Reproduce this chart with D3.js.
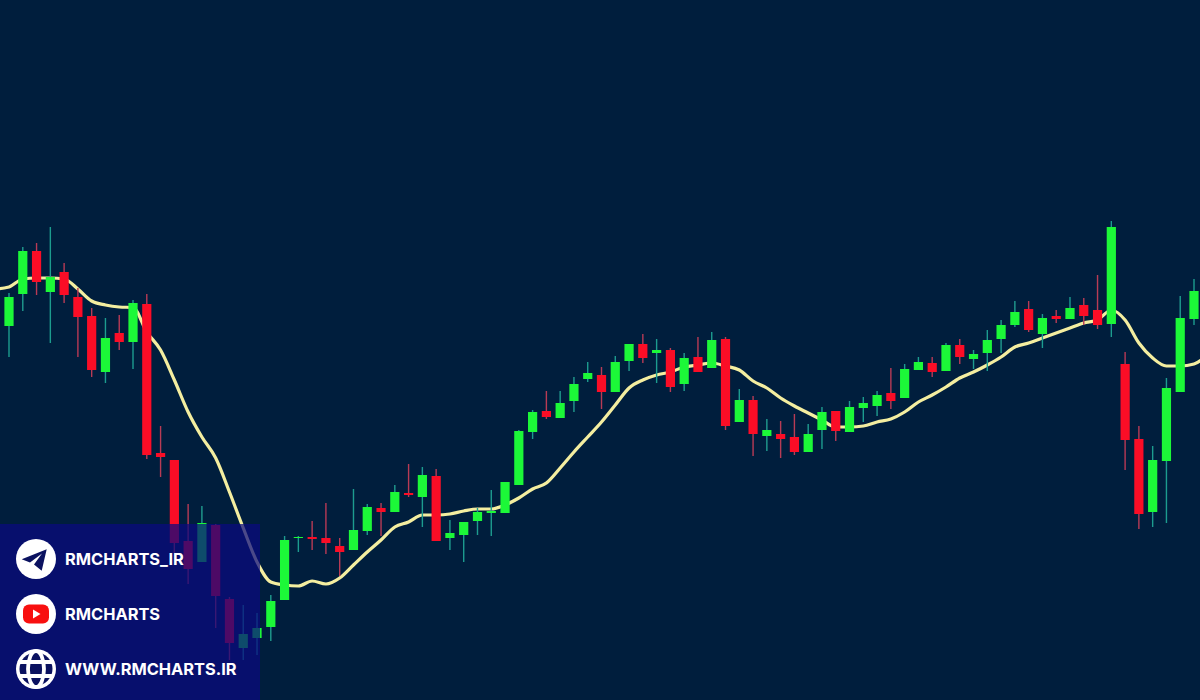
<!DOCTYPE html>
<html><head><meta charset="utf-8">
<style>html,body{margin:0;padding:0;background:#001e3d}svg{display:block}</style>
<script src="https://cdn.jsdelivr.net/npm/d3@7/dist/d3.min.js"></script>
</head><body><div id="c"></div>
<script>
// price = 700 - pixel reading, in chart units
const high=[407,453,457,473,437,412,392,382,385,400,406,274,170,196,194,176,103,95,87,105,164,164,179,197,162,211,196,197,215,236,233,231,180,178,192,210,218,270,290,309,309,323,338,333,344,356,366,361,352,347,363,368,363,311,304,281,279,286,276,293,289,299,303,309,332,336,343,343,357,361,350,370,380,399,399,386,390,403,402,425,479,348,274,254,322,404,421];
const openP=[374,406,449,408,428,403,384,328,367,358,396,247,240,159,138,175,101,52,62,73,100,162,163,162,154,150,169,192,188,207,203,224,162,165,179,187,187,215,268,289,282,299,321,325,308,339,356,347,350,316,343,332,361,278,300,264,266,263,248,270,289,268,292,294,307,302,330,337,329,355,341,347,361,375,391,366,384,381,395,390,376,336,261,188,239,308,381];
const closeP=[403,449,418,423,405,383,330,362,358,397,245,243,157,131,177,104,57,66,72,99,160,163,161,157,148,170,193,188,208,205,225,159,167,178,188,189,218,269,288,283,297,316,327,308,338,356,342,350,313,342,328,360,274,300,266,270,261,248,266,288,269,293,297,305,299,331,338,328,355,343,346,360,375,388,370,382,381,392,384,375,473,260,186,240,312,382,409];
const low=[343,389,405,357,397,343,323,317,350,331,241,223,147,116,138,72,40,40,45,59,100,148,150,146,124,150,165,164,188,203,173,159,150,138,165,164,187,215,261,281,282,288,318,291,308,329,337,317,308,309,328,332,270,278,244,249,242,245,248,251,259,268,278,284,291,302,330,323,329,336,331,329,347,373,368,352,377,381,375,371,363,230,171,173,177,308,375];
const ma=[411,413,421,422,422,421,411,399,395,393,392.5,368,350,320,288,263,242,208,172,138,118,115,114,119,116,122,135,148,160,173,178,185,185,186,189,191,191,195,202,211,217,232,248,263,278,295,312,320,325,328,333,335,337,334,330,319,312,302,294,287,280,273,273,274,278,281,288,298,305,313,322,328,335,343,353,357,362,367,372,377,380,390,380,357,342,334,334,336,345];
const labels=['RMCHARTS_IR','RMCHARTS','WWW.RMCHARTS.IR'];

const W=1200,H=700;
const x=d3.scaleLinear().domain([0,86]).range([9,1194]);
const y=d3.scaleLinear().domain([0,700]).range([700,0]);
const svg=d3.select('#c').append('svg').attr('width',W).attr('height',H);
svg.append('rect').attr('width',W).attr('height',H).attr('fill','#001e3d');
const defs=svg.append('defs');
defs.append('filter').attr('id','soft').append('feGaussianBlur').attr('stdDeviation',0.45);

const chart=svg.append('g').attr('filter','url(#soft)');
const line=d3.line().x((d,i)=>x(i-1)).y(d=>y(d)).curve(d3.curveMonotoneX);
chart.append('path').datum(ma).attr('d',line).attr('fill','none').attr('stroke','#f4eea0').attr('stroke-width',3.2);

const idx=d3.range(openP.length);
chart.selectAll('line.w').data(idx).join('line').attr('class','w')
 .attr('x1',i=>x(i)).attr('x2',i=>x(i)).attr('y1',i=>y(high[i])).attr('y2',i=>y(low[i]))
 .attr('stroke',i=>closeP[i]>=openP[i]?'#1f9c8f':'#b83a55').attr('stroke-width',1.4);
chart.selectAll('rect.b').data(idx).join('rect').attr('class','b')
 .attr('x',i=>x(i)-4.6).attr('width',9.2)
 .attr('y',i=>y(Math.max(openP[i],closeP[i])))
 .attr('height',i=>Math.abs(y(openP[i])-y(closeP[i])))
 .attr('fill',i=>closeP[i]>=openP[i]?'#1cf838':'#fb0a28');

// social panel
svg.append('rect').attr('x',0).attr('y',524).attr('width',260).attr('height',176).attr('fill','#0a0a80').attr('fill-opacity',0.72);
const rowY=[559,614,669];
const rows=svg.selectAll('g.row').data(labels).join('g').attr('class','row').attr('transform',(d,i)=>`translate(0,${rowY[i]})`);
rows.append('circle').attr('cx',36).attr('cy',0).attr('r',20).attr('fill','#fff');
rows.append('text').attr('x',65).attr('y',6).attr('fill','#fff').attr('font-family','Inter').attr('font-weight',700).attr('font-size',16.4).text(d=>d);
const navy='#0b1260';
// telegram
svg.append('path').attr('transform',`translate(36,${rowY[0]})`).attr('fill',navy).attr('d','M-14.3,0.3 L10.7,-9.7 L5.7,11.7 L-2,5.5 L6,-5.5 L-6,3.5 Z');
// youtube
svg.append('rect').attr('x',23).attr('y',rowY[1]-9.5).attr('width',26).attr('height',19).attr('rx',6).attr('fill','#f80f0f');
svg.append('path').attr('transform',`translate(36,${rowY[1]})`).attr('fill','#fff').attr('d','M-3,-4.5 L4.5,0 L-3,4.5 Z');
// globe
const g=svg.append('g').attr('transform',`translate(36,${rowY[2]})`);
g.append('circle').attr('r',16.5).attr('fill',navy);
const gl=g.append('g').attr('fill','none').attr('stroke','#fff').attr('stroke-width',3.8);
gl.append('ellipse').attr('rx',8).attr('ry',18);
gl.append('line').attr('x1',-18).attr('x2',18).attr('y1',-7).attr('y2',-7);
gl.append('line').attr('x1',-18).attr('x2',18).attr('y1',7).attr('y2',7);
</script></body></html>
